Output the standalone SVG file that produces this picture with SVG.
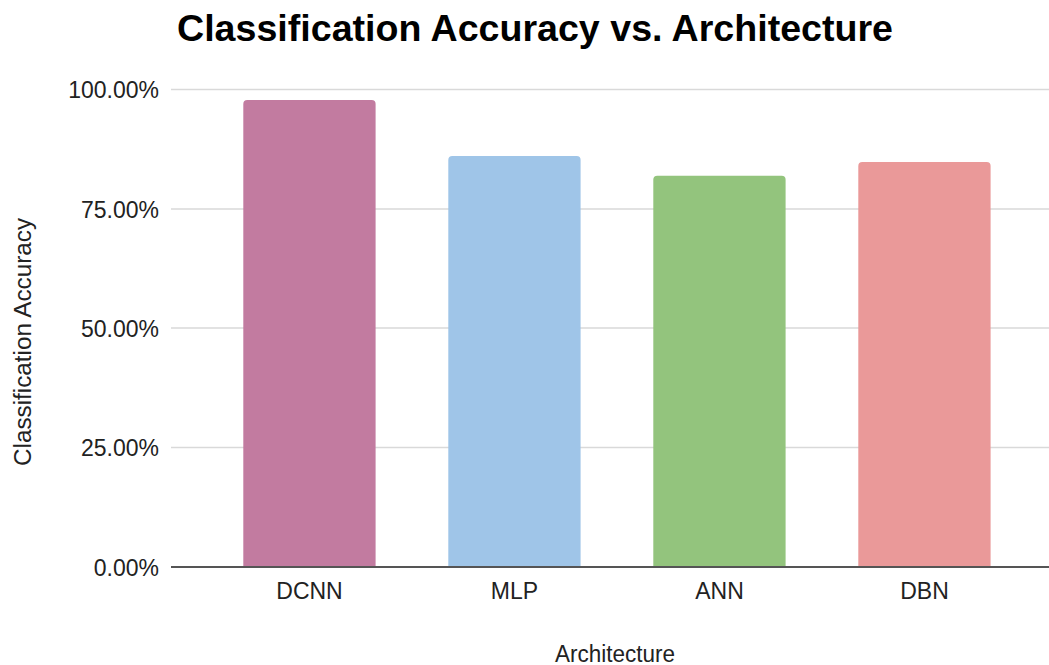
<svg xmlns="http://www.w3.org/2000/svg" width="1049" height="665" viewBox="0 0 1049 665">
  <style>
    .title { font-family: "Liberation Sans", Arial, sans-serif; font-weight: bold; font-size: 36px; fill: #000; }
    .tick { font-family: "Liberation Sans", Arial, sans-serif; font-size: 23px; fill: #222; }
    .axis-title { font-family: "Liberation Sans", Arial, sans-serif; font-size: 23px; fill: #222; }
    .grid { stroke: #d9d9d9; stroke-width: 1.6; fill: none; }
    .baseline { stroke: #555; stroke-width: 2; fill: none; }
  </style>
  <rect width="1049" height="665" fill="#ffffff"/>

  <text class="title" x="177" y="41" textLength="716" lengthAdjust="spacingAndGlyphs">Classification Accuracy vs. Architecture</text>

  <!-- horizontal gridlines, 25% apart -->
  <g id="gridlines">
    <line class="grid" x1="171" y1="89.5" x2="1049" y2="89.5"/>
    <line class="grid" x1="171" y1="209" x2="1049" y2="209"/>
    <line class="grid" x1="171" y1="328" x2="1049" y2="328"/>
    <line class="grid" x1="171" y1="447.5" x2="1049" y2="447.5"/>
  </g>

  <!-- y-axis tick labels -->
  <g id="y-ticks" text-anchor="end">
    <text class="tick" x="159" y="98">100.00%</text>
    <text class="tick" x="159" y="217.5">75.00%</text>
    <text class="tick" x="159" y="336.5">50.00%</text>
    <text class="tick" x="159" y="456">25.00%</text>
    <text class="tick" x="159" y="575.5">0.00%</text>
  </g>

  <!-- bars: rounded top corners, square base -->
  <g id="bar-dcnn">
    <path d="M243.3,567 V104 Q243.3,100 247.3,100 H371.6 Q375.6,100 375.6,104 V567 Z" fill="#c27ba0"/>
    <text class="tick" x="309.5" y="599" text-anchor="middle">DCNN</text>
  </g>
  <g id="bar-mlp">
    <path d="M448.3,567 V160 Q448.3,156 452.3,156 H576.6 Q580.6,156 580.6,160 V567 Z" fill="#9fc5e8"/>
    <text class="tick" x="514.5" y="599" text-anchor="middle">MLP</text>
  </g>
  <g id="bar-ann">
    <path d="M653.3,567 V179.7 Q653.3,175.7 657.3,175.7 H781.6 Q785.6,175.7 785.6,179.7 V567 Z" fill="#93c47d"/>
    <text class="tick" x="719.5" y="599" text-anchor="middle">ANN</text>
  </g>
  <g id="bar-dbn">
    <path d="M858.3,567 V166 Q858.3,162 862.3,162 H986.6 Q990.6,162 990.6,166 V567 Z" fill="#ea9999"/>
    <text class="tick" x="924.5" y="599" text-anchor="middle">DBN</text>
  </g>

  <g id="connectors">
    <line class="baseline" x1="171" y1="567" x2="1049" y2="567"/>
  </g>

  <text class="axis-title" x="615" y="662" text-anchor="middle" textLength="120" lengthAdjust="spacingAndGlyphs">Architecture</text>
  <text class="axis-title" transform="translate(31,342) rotate(-90)" text-anchor="middle" textLength="248" lengthAdjust="spacingAndGlyphs">Classification Accuracy</text>
</svg>
